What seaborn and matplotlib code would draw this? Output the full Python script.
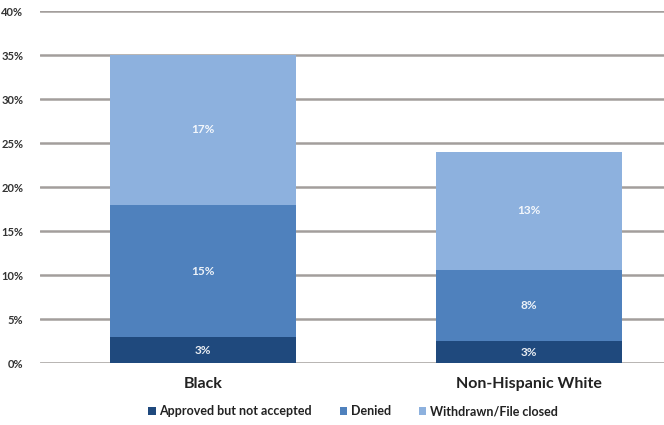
import matplotlib
matplotlib.use("Agg")
import matplotlib.pyplot as plt
import seaborn as sns
import pandas as pd
import numpy as np
from matplotlib.patches import Patch

# Data (percent)
groups = ["Black", "Non-Hispanic White"]
series = ["Approved but not accepted", "Denied", "Withdrawn/File closed"]
approved = [2.9, 2.5]
denied = [15.1, 8.1]
withdrawn = [17.0, 13.4]
labels_approved = ["3%", "3%"]
labels_denied = ["15%", "8%"]
labels_withdrawn = ["17%", "13%"]
colors = ["#1F497D", "#4F81BD", "#8DB1DE"]

sns.set_style("white")
plt.rcParams["font.family"] = ["Lato", "DejaVu Sans"]

fig = plt.figure(figsize=(6.64, 4.25), dpi=100)
ax = fig.add_axes([40 / 664, 62 / 425, 652 / 664, 352 / 425])

values = [approved, denied, withdrawn]
cum = np.cumsum(np.array(values), axis=0)
df = pd.DataFrame({"group": groups * 3,
                   "series": np.repeat(series, 2),
                   "top": cum.ravel()})

# draw from the top of the stack down so each layer covers the one above
for i in reversed(range(3)):
    sub = df[df["series"] == series[i]]
    sns.barplot(data=sub, x="group", y="top", color=colors[i], width=0.57,
                saturation=1, linewidth=0, edgecolor="none", ax=ax, zorder=2)

# segment labels
text_labels = [labels_approved, labels_denied, labels_withdrawn]
for i in range(3):
    for j in range(2):
        base = cum[i - 1][j] if i > 0 else 0
        ax.text(j, base + values[i][j] / 2, text_labels[i][j], ha="center",
                va="center", color="white", fontsize=8.5, fontweight="bold",
                alpha=0.9, zorder=3)

ax.set_ylim(0, 40)
ax.set_xlim(-0.5, 1.5)
ax.set_yticks(range(0, 41, 5))
ax.set_yticklabels([f"{v}%" for v in range(0, 41, 5)])
ax.yaxis.grid(True, color="#A39E9C", linewidth=1.8, zorder=0)
ax.set_axisbelow(True)
for s in ax.spines.values():
    s.set_visible(False)
ax.tick_params(axis="y", length=0, pad=12, labelsize=8, labelcolor="#333333")
ax.tick_params(axis="x", length=0, pad=10, labelsize=11.5, labelcolor="#222222")
for t in ax.get_yticklabels():
    t.set_fontweight("bold")
for t in ax.get_xticklabels():
    t.set_fontweight("bold")
ax.set_xlabel("")
ax.set_ylabel("")

handles = [Patch(facecolor=c, edgecolor="none") for c in colors]
leg = fig.legend(handles, series, loc="center", bbox_to_anchor=(353 / 664, 1 - 411 / 425),
                 ncol=3, frameon=False, handlelength=0.6, handleheight=0.6,
                 handletextpad=0.3, columnspacing=2.2,
                 prop={"size": 9, "weight": "bold"})
for t in leg.get_texts():
    t.set_color("#222222")

fig.savefig("out.png", dpi=100)
